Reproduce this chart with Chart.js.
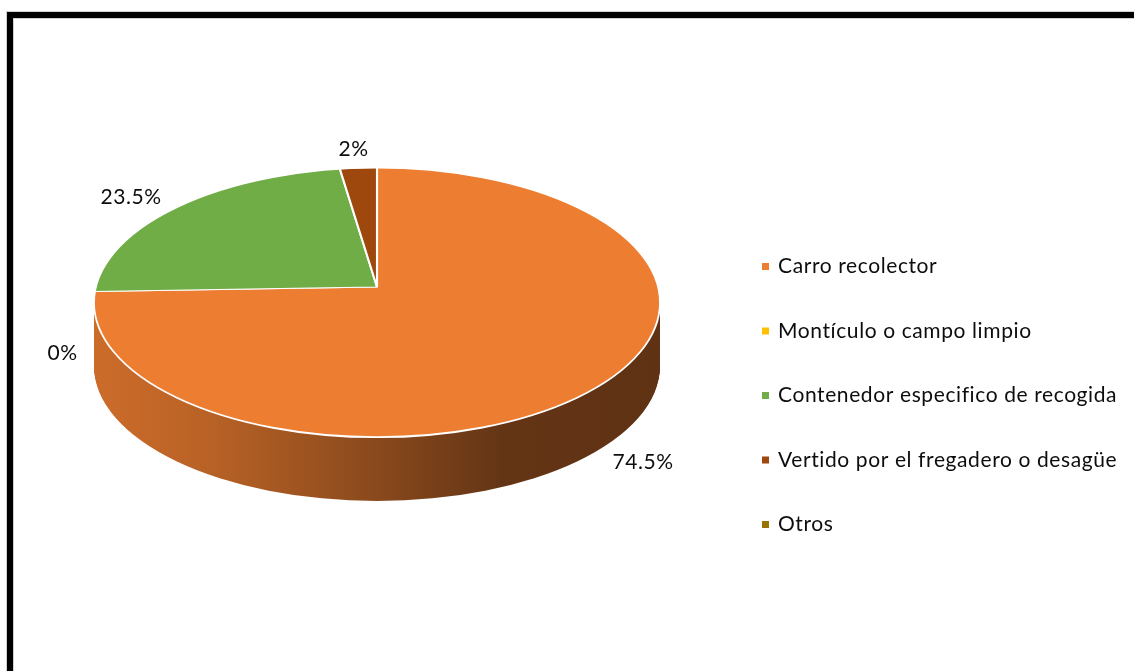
<!DOCTYPE html>
<html lang="es">
<head>
<meta charset="utf-8">
<title>Disposición de residuos</title>
<script src="https://cdn.jsdelivr.net/npm/chart.js@4/dist/chart.umd.min.js"></script>
<style>
  html, body { margin: 0; padding: 0; background: #ffffff; }
  body { width: 1134px; height: 671px; position: relative; overflow: hidden; }
  #frame {
    position: absolute; left: 7px; top: 12px; width: 1200px; height: 800px;
    border-left: 6px solid #000; border-top: 6px solid #000;
    box-shadow: -1px -1px 0 #d0d0d0, inset 1px 1px 0 #d0d0d0;
  }
  #pie { position: absolute; left: 0; top: 0; }
</style>
</head>
<body>
<div id="frame"></div>
<canvas id="pie" width="1134" height="671"></canvas>
<script>
// Categories, shares (percent) and slice colours
const categories = [
  'Carro recolector',
  'Montículo o campo limpio',
  'Contenedor especifico de recogida',
  'Vertido por el fregadero o desagüe',
  'Otros'
];
const shares = [74.5, 0, 23.5, 2, null];
const sliceColors = ['#ED7D31', '#FFC000', '#70AD47', '#9E480E', '#997300'];

// Look of the tilted, extruded pie (fractions of the pie radius)
const TILT_BACK = 0.4218;   // apparent half-height of the far half
const TILT_FRONT = 0.5308;  // apparent half-height of the near half
const DEPTH = 0.225;        // thickness of the side wall
const WALL_SHADE = [[0, 0.86], [0.2, 0.78], [0.5, 0.58], [0.72, 0.42], [1, 0.40]];
const FONT = '21px Lato, "Open Sans", sans-serif';
const LETTER_SPACING = '0.6px';
const TEXT_COLOR = '#0d0d0d';

function rgbOf(hex) {
  const n = parseInt(hex.slice(1), 16);
  return [(n >> 16) & 255, (n >> 8) & 255, n & 255];
}

// draw every arc of the pie with an affine squash around the pie centre,
// limited to the half above or below the centre line (offset downward by dy)
function drawHalf(chart, arcs, lower, dy, sx, sy, styleFor) {
  const ctx = chart.ctx;
  const {x: cx, y: cy} = arcs[0];
  ctx.save();
  ctx.beginPath();
  if (lower) ctx.rect(0, cy + dy, chart.width, chart.height);
  else ctx.rect(0, 0, chart.width, cy + dy);
  ctx.clip();
  ctx.translate(cx, cy + dy);
  ctx.scale(sx, sy);
  ctx.translate(-cx, -cy);
  arcs.forEach((arc, i) => {
    if (styleFor) {
      const saved = arc.options;
      arc.options = Object.assign({}, saved, styleFor(i, sx), {borderWidth: 0});
      arc.draw(ctx);
      arc.options = saved;
    } else {
      arc.draw(ctx);
    }
  });
  ctx.restore();
}

const pie3d = {
  id: 'pie3d',
  beforeDatasetsDraw(chart) {
    const ctx = chart.ctx;
    const arcs = chart.getDatasetMeta(0).data;
    const {x: cx, y: cy, outerRadius: R} = arcs[0];
    const back = TILT_BACK * R, front = TILT_FRONT * R, depth = DEPTH * R;
    const ecy = cy + (front - back) / 2;
    const ery = (front + back) / 2;
    const sxBack = 1.06, syBack = (back / R) * 1.01;
    const sxFront = 1.08, syFront = (front / R) * 1.02;

    // side wall: shaded copies of the near half, stacked downward
    const wallStyle = (i, sx) => {
      const g = ctx.createLinearGradient(cx - R / sx, 0, cx + R / sx, 0);
      const [r, gg, b] = rgbOf(sliceColors[i]);
      WALL_SHADE.forEach(([p, f]) => {
        g.addColorStop(p, `rgb(${Math.round(r * f)},${Math.round(gg * f)},${Math.round(b * f)})`);
      });
      return {backgroundColor: g};
    };
    for (let d = depth; d > 0; d -= 1) {
      ctx.save();
      ctx.beginPath();
      ctx.ellipse(cx, ecy + d, R, ery, 0, 0, Math.PI * 2);
      ctx.clip();
      drawHalf(chart, arcs, true, d, sxFront, syFront, wallStyle);
      ctx.restore();
    }

    // top face
    ctx.save();
    ctx.beginPath();
    ctx.ellipse(cx, ecy, R, ery, 0, 0, Math.PI * 2);
    ctx.clip();
    drawHalf(chart, arcs, false, 0, sxBack, syBack, null);
    drawHalf(chart, arcs, true, 0, sxFront, syFront, null);
    ctx.restore();

    // light rim around the top face
    ctx.save();
    ctx.beginPath();
    ctx.ellipse(cx, ecy, R, ery, 0, 0, Math.PI * 2);
    ctx.strokeStyle = '#ffffff';
    ctx.lineWidth = 1.8;
    ctx.stroke();
    ctx.restore();
    return false;
  }
};

// percentage labels outside the slices
const pctLabels = {
  id: 'pctLabels',
  afterDraw(chart) {
    const ctx = chart.ctx;
    const arcs = chart.getDatasetMeta(0).data;
    const {x: cx, y: cy, outerRadius: R} = arcs[0];
    const depth = DEPTH * R;
    ctx.save();
    ctx.font = FONT;
    ctx.letterSpacing = LETTER_SPACING;
    ctx.fillStyle = TEXT_COLOR;
    ctx.textAlign = 'center';
    ctx.textBaseline = 'alphabetic';
    arcs.forEach((arc, i) => {
      const v = shares[i];
      if (v === null || v === undefined) return;
      const text = v + '%';
      const w = ctx.measureText(text).width;
      const mid = (arc.startAngle + arc.endAngle) / 2;
      const c = Math.cos(mid), s = Math.sin(mid);
      const near = s > 0;
      let x, y;
      if (near) {
        // labels of the near half sit beside the side wall
        x = cx + 1.1 * R * c + Math.sign(c) * w / 2 + 0.042 * R;
        y = cy + depth + 0.58 * R * s - 3;
      } else {
        x = cx + R * c;
        if (Math.abs(c) > 0.3) x += Math.sign(c) * w / 2;
        else x -= 0.02 * R;
        y = cy + 0.49 * R * s;
      }
      ctx.fillText(text, x, y + 7.5);
    });
    ctx.restore();
  }
};

// legend to the right of the pie
const sideLegend = {
  id: 'sideLegend',
  afterDraw(chart) {
    const ctx = chart.ctx;
    const x0 = 762, firstBase = 273, step = 64.5;
    ctx.save();
    ctx.font = FONT;
    ctx.letterSpacing = LETTER_SPACING;
    ctx.textBaseline = 'alphabetic';
    ctx.textAlign = 'left';
    chart.data.labels.forEach((label, i) => {
      const base = firstBase + i * step;
      ctx.fillStyle = chart.data.datasets[0].backgroundColor[i];
      ctx.fillRect(x0, base - 10, 7, 7);
      ctx.fillStyle = TEXT_COLOR;
      ctx.fillText(label, x0 + 16, base);
    });
    ctx.restore();
  }
};

new Chart(document.getElementById('pie'), {
  type: 'pie',
  data: {
    labels: categories,
    datasets: [{
      data: shares,
      backgroundColor: sliceColors,
      borderColor: '#ffffff',
      borderWidth: 2,
      hoverOffset: 0
    }]
  },
  options: {
    responsive: false,
    animation: false,
    events: [],
    layout: {padding: {left: 93, right: 473, top: 3, bottom: 100}},
    plugins: {legend: {display: false}, tooltip: {enabled: false}}
  },
  plugins: [pie3d, pctLabels, sideLegend]
});
</script>
</body>
</html>
